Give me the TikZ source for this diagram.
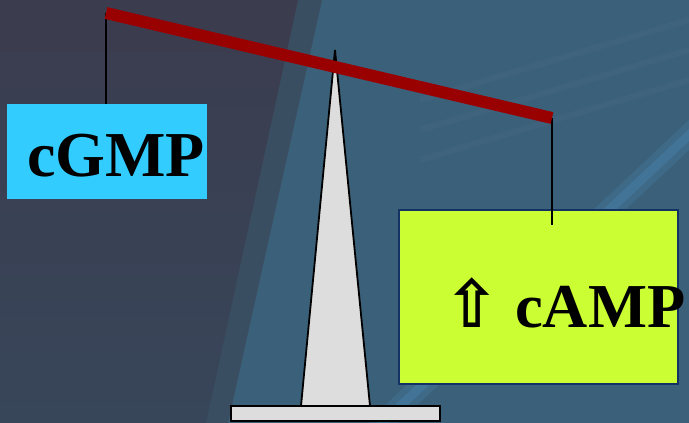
\documentclass[tikz,border=0pt]{standalone}
\usepackage{fontspec}
\setmainfont{Liberation Serif}
\newfontfamily\arrowfont{DejaVu Sans}
\usepackage{tikz}
\usetikzlibrary{positioning}

\definecolor{bgblue}{RGB}{59,96,121}
\definecolor{bgmid}{RGB}{58,78,98}
\definecolor{bgdarktop}{RGB}{59,60,78}
\definecolor{bgdarkbot}{RGB}{56,70,90}
\definecolor{streak}{RGB}{80,150,200}
\definecolor{beamred}{RGB}{153,0,0}
\definecolor{gmpcyan}{RGB}{51,204,255}
\definecolor{ampyellow}{RGB}{204,255,51}
\definecolor{ampedge}{RGB}{20,50,100}
\definecolor{standgray}{RGB}{221,221,221}

\tikzset{
  weightbox/.style={rectangle, inner sep=0pt},
  weighttext/.style={inner sep=0pt, anchor=base west, font=\bfseries\fontsize{64}{64}\selectfont},
  beam/.style={line width=12pt, color=beamred},
  cord/.style={line width=1.5pt, black},
  stand/.style={fill=standgray, draw=black, line width=1.8pt},
  glint/.style={streak, line cap=round},
}

\begin{document}
\begin{tikzpicture}[x=1pt,y=-1pt]
\useasboundingbox (0,0) rectangle (689,423);
\fill[bgblue] (0,0) rectangle (689,423);
\fill[bgmid] (0,0) -- (322,0) -- (228,423) -- (0,423) -- cycle;
\shade[top color=bgdarktop, bottom color=bgdarkbot] (0,0) -- (298,0) -- (206,423) -- (0,423) -- cycle;
\draw[glint, line width=22pt, opacity=0.18] (705,120) -- (380,425);
\draw[glint, line width=9pt, opacity=0.25] (705,120) -- (380,425);
\foreach \y in {40,70,100}
  \draw[white, line width=6pt, opacity=0.025] (420,\y+60) -- (689,\y-20);

\coordinate (lend) at (106,13);
\coordinate (rend) at (552,118);
\coordinate (rknot) at (552,225);
\coordinate (apex) at (335,50);

\node[weightbox, fill=gmpcyan, minimum width=200pt, minimum height=95pt] (gmpbox) at (107,151.5) {};
\node[weightbox, fill=ampyellow, draw=ampedge, line width=1.2pt, minimum width=279pt, minimum height=174pt] (ampbox) at (538.5,297) {};

\node[weighttext] (gmp) at (27,176) {cGMP};
\node[weighttext, font=\bfseries\fontsize{62.5}{64}\selectfont] (amp) at (444,327) {{\arrowfont\fontsize{66}{66}\selectfont ⇧} cAMP};

\draw[cord] (lend) -- (lend |- gmpbox.north);
\draw[cord] (rend) -- (rknot);

\draw[stand] (apex) -- (301,406) -- (370,406) -- cycle;
\node[weightbox, stand, minimum width=209pt, minimum height=15pt] (plate) at (335.5,413.5) {};
\draw[beam] (lend) -- (rend);
\end{tikzpicture}
\end{document}
